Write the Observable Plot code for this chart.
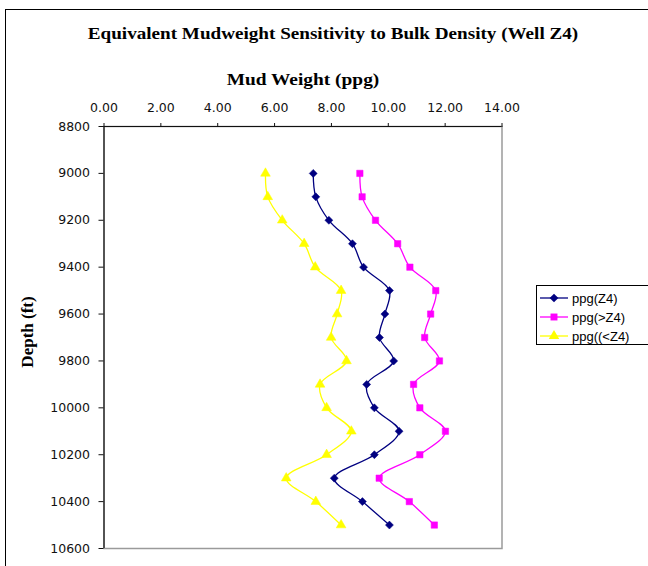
<!DOCTYPE html>
<html>
<head>
<meta charset="utf-8">
<script src="https://cdn.jsdelivr.net/npm/d3@7"></script>
<script src="https://cdn.jsdelivr.net/npm/@observablehq/plot@0.6"></script>
<style>
  html, body { margin: 0; padding: 0; background: #fff; }
  #wrap { position: relative; width: 648px; height: 566px; overflow: hidden; }
  #wrap svg.plot { position: absolute; left: 0; top: 0; }
  .ov { position: absolute; white-space: nowrap; }
  .serifb { font-family: "Liberation Serif", "Times New Roman", serif; font-weight: bold; color: #000; }
  #border { position: absolute; left: 5px; top: 9px; width: 700px; height: 700px; border: 1.5px solid #000; box-sizing: border-box; }
  #legend { position: absolute; left: 536px; top: 285px; width: 120px; height: 58px; border: 1px solid #000; background: #fff; font-family: "Liberation Sans", Arial, sans-serif; font-size: 13px; }
  #legend .row { position: absolute; left: 2px; height: 16px; display: flex; align-items: center; }
  #legend .row span { margin-left: 3px; }
</style>
</head>
<body>
<div id="wrap">
  <div id="border"></div>
</div>
<script>
// ---- data ----
const depths = [9000, 9100, 9200, 9300, 9400, 9500, 9600, 9700, 9800, 9900, 10000, 10100, 10200, 10300, 10400, 10500];
const ppgZ4   = [7.36, 7.45, 7.91, 8.74, 9.13, 10.04, 9.88, 9.69, 10.19, 9.24, 9.51, 10.38, 9.51, 8.10, 9.09, 10.04];
const ppgGtZ4 = [9.00, 9.08, 9.55, 10.33, 10.76, 11.67, 11.49, 11.28, 11.80, 10.89, 11.11, 12.01, 11.11, 9.68, 10.74, 11.62];
const ppgLtZ4 = [5.68, 5.76, 6.27, 7.04, 7.43, 8.34, 8.20, 7.99, 8.53, 7.60, 7.83, 8.70, 7.83, 6.41, 7.45, 8.34];
const seriesNames = ["ppg(Z4)", "ppg(>Z4)", "ppg((<Z4)"];
const seriesColors = ["#000080", "#FF00FF", "#FFFF00"];
const seriesSymbols = ["diamond2", "square", "triangle"];
const xTicks = [0, 2, 4, 6, 8, 10, 12, 14];
const yTicks = [8800, 9000, 9200, 9400, 9600, 9800, 10000, 10200, 10400, 10600];
const titleText = "Equivalent Mudweight Sensitivity to Bulk Density (Well Z4)";
const xLabel = "Mud Weight (ppg)";
const yLabel = "Depth (ft)";

const seriesValues = [ppgZ4, ppgGtZ4, ppgLtZ4];
const rows = [];
seriesValues.forEach((vals, si) => {
  vals.forEach((v, i) => rows.push({series: seriesNames[si], depth: depths[i], ppg: v}));
});

const tickFont = "DejaVu Sans, Verdana, sans-serif";

const chart = Plot.plot({
  width: 648,
  height: 566,
  marginLeft: 103.5,
  marginRight: 146.5,
  marginTop: 126,
  marginBottom: 18,
  style: {fontFamily: tickFont, fontSize: "12.5px", background: "transparent", overflow: "visible"},
  x: {domain: [0, 14]},
  y: {domain: [8800, 10600], reverse: true},
  color: {domain: seriesNames, range: seriesColors},
  symbol: {domain: seriesNames, range: seriesSymbols},
  marks: [
    Plot.frame({stroke: "#9a9a9a", strokeWidth: 1.5}),
    Plot.ruleX([0], {stroke: "#333", strokeWidth: 1.5}),
    Plot.ruleY([8800], {stroke: "#111", strokeWidth: 1.2}),
    Plot.axisX({anchor: "top", ticks: xTicks, tickSize: 4, tickPadding: 11, tickFormat: d => d.toFixed(2), label: null, stroke: "#111", fill: "#111"}),
    Plot.axisY({anchor: "left", ticks: yTicks, tickSize: 5, tickPadding: 9, tickFormat: d => String(d), label: null, stroke: "#111", fill: "#111"}),
    Plot.line(rows, {x: "ppg", y: "depth", z: "series", stroke: "series", curve: "catmull-rom", strokeWidth: 1.3}),
    Plot.dot(rows, {x: "ppg", y: "depth", symbol: "series", fill: "series", stroke: "series", strokeWidth: 0.5, r: 3.6})
  ]
});
chart.classList.add("plot");
const wrap = document.getElementById("wrap");
wrap.appendChild(chart);

function addText(txt, cls, css) {
  const d = document.createElement("div");
  d.className = "ov " + cls;
  d.textContent = txt;
  Object.assign(d.style, css);
  wrap.appendChild(d);
  return d;
}
addText(titleText, "serifb", {left: "333px", top: "34px", fontSize: "17px", transform: "translate(-50%, -50%) scaleX(1.125)"});
addText(xLabel, "serifb", {left: "303px", top: "80px", fontSize: "17px", transform: "translate(-50%, -50%) scaleX(1.14)"});
addText(yLabel, "serifb", {left: "28px", top: "332px", fontSize: "17px", transform: "translate(-50%, -50%) rotate(-90deg)"});

// legend
const legend = document.createElement("div");
legend.id = "legend";
seriesNames.forEach((name, i) => {
  const row = document.createElement("div");
  row.className = "row";
  row.style.top = (4 + i * 19) + "px";
  const sw = d3.create("svg").attr("width", 30).attr("height", 14);
  sw.append("line").attr("x1", 1).attr("x2", 29).attr("y1", 7).attr("y2", 7).attr("stroke", seriesColors[i]).attr("stroke-width", 1.3);
  const sym = {diamond2: d3.symbolDiamond2, square: d3.symbolSquare, triangle: d3.symbolTriangle}[seriesSymbols[i]];
  sw.append("path").attr("d", d3.symbol(sym, 48)()).attr("transform", "translate(15,7)").attr("fill", seriesColors[i]);
  row.appendChild(sw.node());
  const s = document.createElement("span");
  s.textContent = name;
  row.appendChild(s);
  legend.appendChild(row);
});
wrap.appendChild(legend);
</script>
</body>
</html>
